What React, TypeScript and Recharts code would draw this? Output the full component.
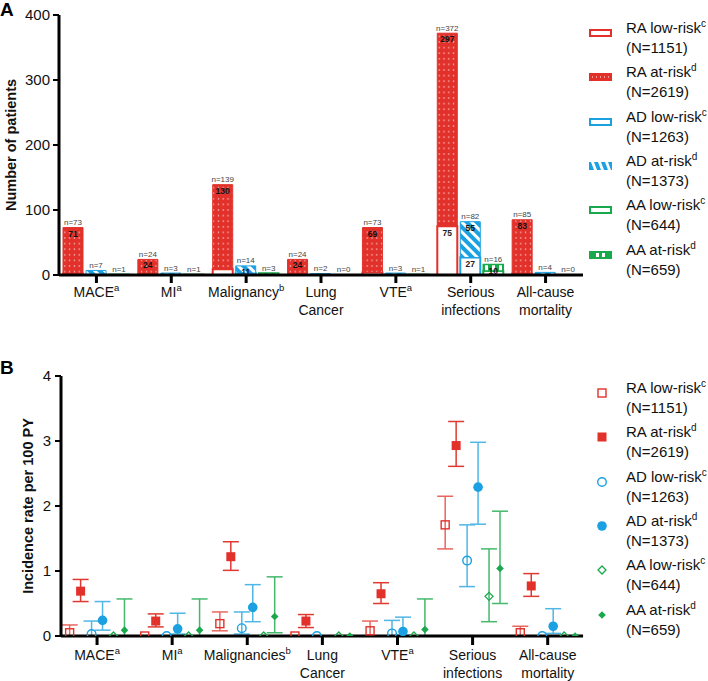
import React from "react";
import {
  BarChart,
  Bar,
  XAxis,
  YAxis,
  LabelList,
  Label,
  ScatterChart,
  Scatter,
  ErrorBar,
} from "recharts";

const RED = "#e2312b";
const BLUE = "#1ba1e2";
const GREEN = "#1aa84c";
const FONT = "'Liberation Sans', Arial, Helvetica, sans-serif";

// categories
const categoriesA = ["MACE", "MI", "Malignancy", "Lung Cancer", "VTE", "Serious infections", "All-cause mortality"];
const categoriesB = ["MACE", "MI", "Malignancies", "Lung Cancer", "VTE", "Serious infections", "All-cause mortality"];
const categorySup = ["a", "a", "b", "", "a", "", ""];

// panel A: number of patients
const raLow = [2, 0, 9, 0, 4, 75, 2];
const raAt = [71, 24, 130, 24, 69, 297, 83];
const adLow = [1, 0, 3, 0, 1, 27, 1];
const adAt = [6, 3, 11, 2, 2, 55, 3];
const aaLow = [0, 0, 0, 0, 0, 6, 0];
const aaAt = [1, 1, 3, 0, 1, 10, 0];

// panel B: incidence rate per 100 PY (point, lower CI, upper CI)
const raLowIR = [0.05, 0, 0.19, 0, 0.08, 1.71, 0.05];
const raLowLo = [0, 0, 0.08, 0, 0, 1.34, 0];
const raLowHi = [0.17, 0, 0.37, 0, 0.23, 2.15, 0.15];

const raAtIR = [0.69, 0.23, 1.22, 0.23, 0.65, 2.93, 0.77];
const raAtLo = [0.53, 0.14, 1.01, 0.13, 0.5, 2.61, 0.61];
const raAtHi = [0.87, 0.34, 1.45, 0.33, 0.82, 3.3, 0.96];

const adLowIR = [0.03, 0, 0.12, 0, 0.04, 1.16, 0];
const adLowLo = [0, 0, 0.03, 0, 0, 0.76, 0];
const adLowHi = [0.23, 0, 0.37, 0, 0.24, 1.71, 0];

const adAtIR = [0.24, 0.11, 0.44, null, 0.07, 2.29, 0.15];
const adAtLo = [0.09, 0.03, 0.22, null, 0.01, 1.72, 0.04];
const adAtHi = [0.53, 0.35, 0.79, null, 0.29, 2.98, 0.42];

const aaLowIR = [0, 0, 0, 0, 0, 0.61, 0];
const aaLowLo = [0, 0, 0, 0, 0, 0.22, 0];
const aaLowHi = [0, 0, 0, 0, 0, 1.34, 0];

const aaAtIR = [0.09, 0.09, 0.3, 0, 0.1, 1.04, 0];
const aaAtLo = [0, 0, 0.05, 0, 0, 0.5, 0];
const aaAtHi = [0.57, 0.57, 0.91, 0, 0.57, 1.92, 0];

const groupNames = ["RA low-risk", "RA at-risk", "AD low-risk", "AD at-risk", "AA low-risk", "AA at-risk"];
const groupSup = ["c", "d", "c", "d", "c", "d"];
const groupN = ["(N=1151)", "(N=2619)", "(N=1263)", "(N=1373)", "(N=644)", "(N=659)"];

const barData = categoriesA.map((name, i) => ({
  name,
  raLow: raLow[i],
  raAt: raAt[i],
  adLow: adLow[i],
  adAt: adAt[i],
  aaLow: aaLow[i],
  aaAt: aaAt[i],
}));

const OFFSET = 0.146;
const buildPoints = (k: number, vals: (number | null)[], lo: (number | null)[], hi: (number | null)[]) =>
  vals.flatMap((v, i) =>
    v === null ? [] : [{ x: i + (k - 2.5) * OFFSET, y: v, err: [v - (lo[i] as number), (hi[i] as number) - v] }]
  );

const seriesB = [
  { kind: "sqOpen", color: RED, errColor: "#e8665e", data: buildPoints(0, raLowIR, raLowLo, raLowHi) },
  { kind: "sq", color: RED, errColor: "#e0392f", data: buildPoints(1, raAtIR, raAtLo, raAtHi) },
  { kind: "cOpen", color: BLUE, errColor: "#4fb6e6", data: buildPoints(2, adLowIR, adLowLo, adLowHi) },
  { kind: "c", color: BLUE, errColor: "#4fb6e6", data: buildPoints(3, adAtIR, adAtLo, adAtHi) },
  { kind: "dOpen", color: GREEN, errColor: "#45b86c", data: buildPoints(4, aaLowIR, aaLowLo, aaLowHi) },
  { kind: "d", color: GREEN, errColor: "#45b86c", data: buildPoints(5, aaAtIR, aaAtLo, aaAtHi) },
];

const marker = (kind: string, color: string, cx: number, cy: number) => {
  switch (kind) {
    case "sqOpen":
      return <rect x={cx - 4} y={cy - 4} width={8} height={8} fill="none" stroke={color} strokeWidth={1.4} />;
    case "sq":
      return <rect x={cx - 4.5} y={cy - 4.5} width={9} height={9} fill={color} />;
    case "cOpen":
      return <circle cx={cx} cy={cy} r={4.3} fill="none" stroke={color} strokeWidth={1.4} />;
    case "c":
      return <circle cx={cx} cy={cy} r={4.8} fill={color} />;
    case "dOpen":
      return (
        <path d={`M${cx},${cy - 4}L${cx + 4},${cy}L${cx},${cy + 4}L${cx - 4},${cy}Z`} fill="none" stroke={color} strokeWidth={1.3} />
      );
    default:
      return <path d={`M${cx},${cy - 3.8}L${cx + 3.8},${cy}L${cx},${cy + 3.8}L${cx - 3.8},${cy}Z`} fill={color} />;
  }
};

const makeTick = (labels: string[], baseDy: number) => (props: any) => {
  const { x, y, payload } = props;
  const i = typeof payload.value === "number" ? payload.value : labels.indexOf(payload.value);
  if (i < 0 || i >= labels.length) return <g />;
  const words = labels[i].split(" ");
  const sup = categorySup[i];
  return (
    <g>
      {words.map((w, k) => (
        <text key={k} x={x} y={y + baseDy + k * 18} textAnchor="middle" fontSize={14} fill="#111" fontFamily={FONT}>
          {w}
          {sup && k === words.length - 1 ? (
            <tspan dy={-6} fontSize={9.5}>
              {sup}
            </tspan>
          ) : null}
        </text>
      ))}
    </g>
  );
};

const yTitle = (text: string, cx: number) => (props: any) => {
  const vb = props.viewBox || {};
  const cy = (vb.y ?? 0) + (vb.height ?? 0) / 2;
  return (
    <text
      x={cx}
      y={cy}
      transform={`rotate(-90 ${cx} ${cy})`}
      textAnchor="middle"
      dominantBaseline="central"
      fontSize={14.5}
      fontWeight="bold"
      fill="#111"
      fontFamily={FONT}
    >
      {text}
    </text>
  );
};

const boxOf = (props: any) => {
  const vb = props.viewBox && props.viewBox.width !== undefined ? props.viewBox : props;
  return { x: Number(vb.x), y: Number(vb.y), width: Number(vb.width) };
};

// the labels are keyed by category name, so skipped zero bars do not shift them
const catIndex = (props: any) =>
  typeof props.value === "string" ? categoriesA.indexOf(props.value) : props.index ?? -1;

// "n=" total above the stack, at-risk count inside the top segment
const topLabel = (low: number[], at: number[]) => (props: any) => {
  const { x, y, width } = boxOf(props);
  const i = catIndex(props);
  if (i < 0) return null;
  const cx = x + width / 2;
  return (
    <g>
      <text x={cx} y={y - 2.5} textAnchor="middle" fontSize={8} fill="#444" fontFamily={FONT}>
        n={low[i] + at[i]}
      </text>
      {at[i] >= 10 ? (
        <text x={cx} y={y + 9} textAnchor="middle" fontSize={8.5} fontWeight="bold" fill="#111" fontFamily={FONT}>
          {at[i]}
        </text>
      ) : null}
    </g>
  );
};

const lowLabel = (low: number[]) => (props: any) => {
  const { x, y, width } = boxOf(props);
  const i = catIndex(props);
  if (i < 0 || low[i] < 20) return null;
  return (
    <text x={x + width / 2} y={y + 10} textAnchor="middle" fontSize={8.5} fontWeight="bold" fill="#222" fontFamily={FONT}>
      {low[i]}
    </text>
  );
};

const Patterns = () => (
  <defs>
    <pattern id="dotsRed" width="4.8" height="5.6" patternUnits="userSpaceOnUse">
      <rect width="4.8" height="5.6" fill={RED} />
      <rect x="1.8" y="2.2" width="1.2" height="1.2" fill="#fff" opacity="0.85" />
    </pattern>
    <pattern id="stripesBlue" width="7" height="7" patternUnits="userSpaceOnUse" patternTransform="rotate(-45)">
      <rect width="7" height="7" fill={BLUE} />
      <rect width="3" height="7" fill="#fff" />
    </pattern>
    <pattern id="barsGreen" width="7" height="10" patternUnits="userSpaceOnUse">
      <rect width="7" height="10" fill={GREEN} />
      <rect x="2" width="3" height="10" fill="#fff" />
    </pattern>
  </defs>
);

const iconA = (i: number) => {
  const colors = [RED, RED, BLUE, BLUE, GREEN, GREEN];
  const c = colors[i];
  if (i % 2 === 0) return <rect x={1} y={1} width={21} height={6} fill="#fff" stroke={c} strokeWidth={2} />;
  if (i === 1)
    return (
      <g>
        <rect x={0} y={0} width={23} height={8} fill={RED} />
        {[3, 7, 11, 15, 19].map((dx) => (
          <rect key={dx} x={dx} y={3.5} width={1} height={1} fill="#fff" />
        ))}
      </g>
    );
  if (i === 3)
    return (
      <g>
        <rect x={0} y={0} width={23} height={8} fill={BLUE} />
        {[5, 12, 19].map((dx) => (
          <path key={dx} d={`M${dx - 3},0L${dx},0L${dx + 3},8L${dx},8Z`} fill="#fff" />
        ))}
      </g>
    );
  return (
    <g>
      <rect x={0} y={0} width={23} height={8} fill={GREEN} />
      <rect x={7} y={2} width={3} height={4} fill="#fff" />
      <rect x={13} y={2} width={3} height={4} fill="#fff" />
    </g>
  );
};

const LegendBlock = ({ top, iconLeft, panel }: { top: number; iconLeft: number; panel: "A" | "B" }) => (
  <div style={{ position: "absolute", left: 0, top: 0 }}>
    {groupNames.map((name, i) => {
      const cy = top + i * 44.3;
      return (
        <div key={name}>
          <svg style={{ position: "absolute", left: iconLeft, top: cy - 6 }} width={24} height={12}>
            {panel === "A" ? (
              <g transform="translate(0,2)">{iconA(i)}</g>
            ) : (
              marker(seriesB[i].kind, seriesB[i].color, 12, 6)
            )}
          </svg>
          <div
            style={{
              position: "absolute",
              left: 626,
              top: cy - 14,
              fontSize: 15,
              lineHeight: "18px",
              whiteSpace: "nowrap",
              color: "#111",
            }}
          >
            {name}
            <span style={{ fontSize: 10, position: "relative", top: -6 }}>{groupSup[i]}</span>
            <br />
            {groupN[i]}
          </div>
        </div>
      );
    })}
  </div>
);

const axisLine = { stroke: "#000", strokeWidth: 3 };
const tickLine = { stroke: "#000", strokeWidth: 3 };

export default function App() {
  return (
    <div style={{ position: "relative", width: 708, height: 681, fontFamily: FONT, background: "#fff", overflow: "hidden" }}>
      <style>{"body{margin:0;background:#fff}"}</style>

      <div style={{ position: "absolute", left: 0, top: 0 }}>
        <BarChart
          width={708}
          height={330}
          data={barData}
          margin={{ top: 15, right: 125, bottom: 25, left: 0 }}
          barSize={20}
          barGap={3}
        >
          <Patterns />
          <XAxis
            dataKey="name"
            height={30}
            axisLine={axisLine}
            tickLine={tickLine}
            tickSize={8}
            interval={0}
            tick={makeTick(categoriesA, 12)}
          />
          <YAxis
            width={59}
            domain={[0, 400]}
            ticks={[0, 100, 200, 300, 400]}
            axisLine={axisLine}
            tickLine={{ stroke: "#000", strokeWidth: 2 }}
            tickSize={6}
            tickMargin={3}
            tick={{ fontSize: 15, fill: "#111" }}
          >
            <Label content={yTitle("Number of patients", 11)} />
          </YAxis>
          <Bar dataKey="raLow" stackId="ra" fill="#fff" stroke={RED} strokeWidth={2} isAnimationActive={false}>
            <LabelList dataKey="name" content={lowLabel(raLow)} />
          </Bar>
          <Bar dataKey="raAt" stackId="ra" fill="url(#dotsRed)" stroke={RED} strokeWidth={1} minPointSize={0.1} isAnimationActive={false}>
            <LabelList dataKey="name" content={topLabel(raLow, raAt)} />
          </Bar>
          <Bar dataKey="adLow" stackId="ad" fill="#fff" stroke={BLUE} strokeWidth={2} isAnimationActive={false}>
            <LabelList dataKey="name" content={lowLabel(adLow)} />
          </Bar>
          <Bar dataKey="adAt" stackId="ad" fill="url(#stripesBlue)" stroke={BLUE} strokeWidth={1} minPointSize={0.1} isAnimationActive={false}>
            <LabelList dataKey="name" content={topLabel(adLow, adAt)} />
          </Bar>
          <Bar dataKey="aaLow" stackId="aa" fill="#fff" stroke={GREEN} strokeWidth={2} isAnimationActive={false}>
            <LabelList dataKey="name" content={lowLabel(aaLow)} />
          </Bar>
          <Bar dataKey="aaAt" stackId="aa" fill="url(#barsGreen)" stroke={GREEN} strokeWidth={1.5} minPointSize={0.1} isAnimationActive={false}>
            <LabelList dataKey="name" content={topLabel(aaLow, aaAt)} />
          </Bar>
        </BarChart>
      </div>

      <div style={{ position: "absolute", left: 0, top: 330 }}>
        <ScatterChart width={708} height={351} margin={{ top: 46, right: 125, bottom: 15, left: 0 }}>
          <XAxis
            type="number"
            dataKey="x"
            height={30}
            domain={[-0.48, 6.47]}
            ticks={[0, 1, 2, 3, 4, 5, 6]}
            interval={0}
            allowDataOverflow
            axisLine={axisLine}
            tickLine={tickLine}
            tickSize={9}
            tick={makeTick(categoriesB, 13)}
          />
          <YAxis
            type="number"
            dataKey="y"
            width={61}
            domain={[0, 4]}
            ticks={[0, 1, 2, 3, 4]}
            allowDataOverflow
            axisLine={axisLine}
            tickLine={{ stroke: "#000", strokeWidth: 2 }}
            tickSize={6}
            tickMargin={4}
            tick={{ fontSize: 15, fill: "#111" }}
          >
            <Label content={yTitle("Incidence rate per 100 PY", 28)} />
          </YAxis>
          {seriesB.map((s, k) => (
            <Scatter
              key={k}
              data={s.data}
              isAnimationActive={false}
              shape={(p: any) => marker(s.kind, s.color, p.cx, p.cy)}
            >
              <ErrorBar
                dataKey="err"
                direction="y"
                width={8}
                stroke={s.errColor}
                strokeWidth={1.5}
                isAnimationActive={false}
              />
            </Scatter>
          ))}
        </ScatterChart>
      </div>

      <div style={{ position: "absolute", left: 0, top: -0.5, fontSize: 19, fontWeight: "bold", lineHeight: "19px" }}>A</div>
      <div style={{ position: "absolute", left: 0, top: 357.5, fontSize: 19, fontWeight: "bold", lineHeight: "19px" }}>B</div>

      <LegendBlock top={33} iconLeft={589} panel="A" />
      <LegendBlock top={393} iconLeft={590} panel="B" />
    </div>
  );
}
